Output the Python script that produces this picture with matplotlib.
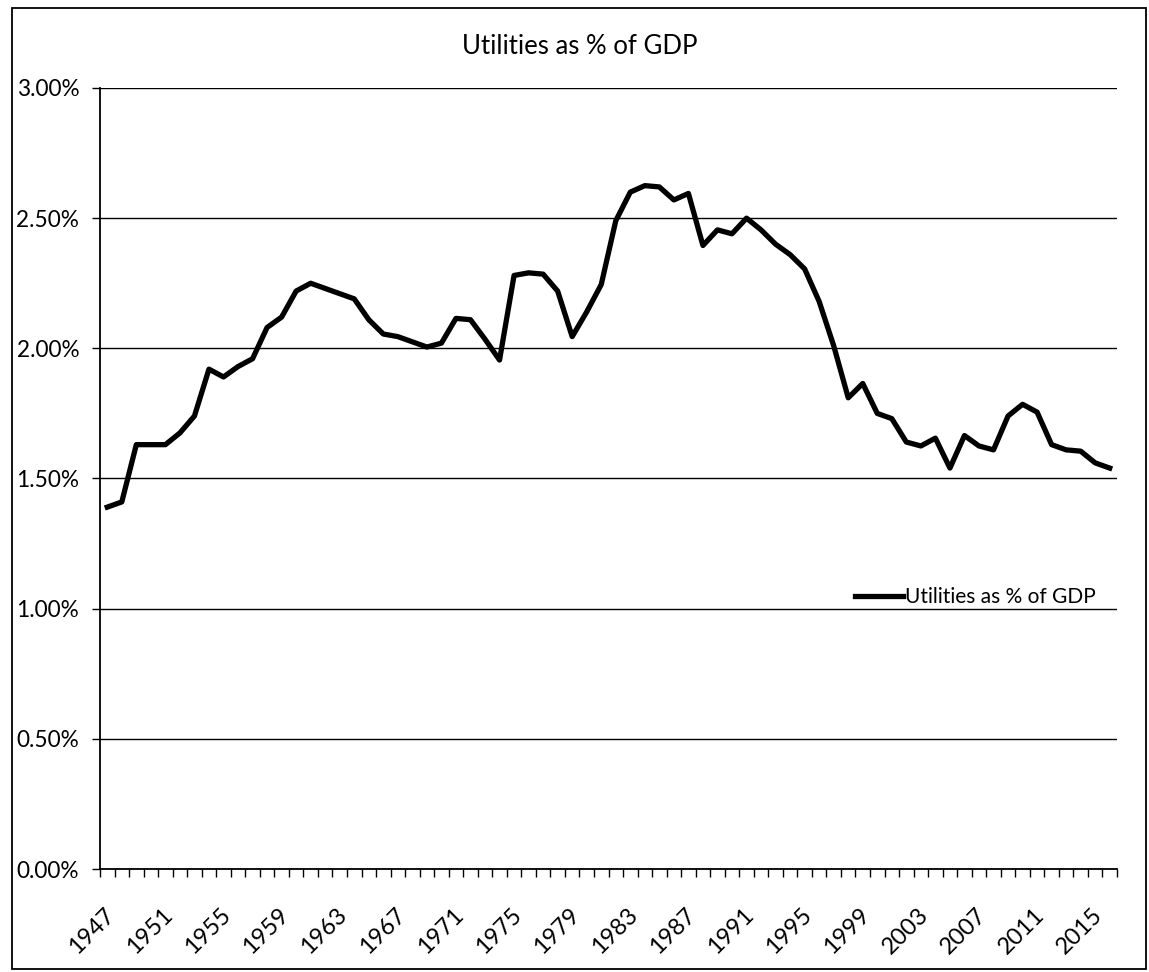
import matplotlib
matplotlib.use("Agg")
import matplotlib.pyplot as plt
from matplotlib.patches import Rectangle
from matplotlib.ticker import FuncFormatter
from matplotlib.transforms import ScaledTranslation

plt.rcParams["font.family"] = ["Lato", "DejaVu Sans"]

# utilities share of GDP (%), one value per year 1947..2016
years = list(range(1947, 2017))
share = [1.39, 1.41, 1.63, 1.63, 1.63, 1.675, 1.74, 1.92, 1.89, 1.93,
         1.96, 2.08, 2.12, 2.22, 2.25, 2.23, 2.21, 2.19, 2.11, 2.055,
         2.045, 2.025, 2.005, 2.02, 2.115, 2.11, 2.035, 1.955, 2.28, 2.29,
         2.285, 2.22, 2.045, 2.14, 2.245, 2.49, 2.60, 2.625, 2.62, 2.57,
         2.595, 2.395, 2.455, 2.44, 2.50, 2.455, 2.40, 2.36, 2.305, 2.18,
         2.01, 1.81, 1.865, 1.75, 1.73, 1.64, 1.625, 1.655, 1.54, 1.665,
         1.625, 1.61, 1.74, 1.785, 1.755, 1.63, 1.61, 1.605, 1.56, 1.54]
label_years = years[::4]
y_ticks = [0.0, 0.5, 1.0, 1.5, 2.0, 2.5, 3.0]

W, H = 1149, 972
fig = plt.figure(figsize=(W / 100, H / 100), dpi=100)
ax = fig.add_axes([100 / W, 1 - 869 / H, 1017 / W, 781 / H])

line, = ax.plot(years, share, color="black", lw=3.8, solid_joinstyle="round",
                label="Utilities as % of GDP", zorder=3)

ax.set_xlim(years[0] - 0.5, years[-1] + 0.5)
ax.set_ylim(0, 3.0)
ax.set_yticks(y_ticks)
ax.yaxis.set_major_formatter(FuncFormatter(lambda v, p: "%.2f%%" % v))
ax.grid(axis="y", color="black", lw=1.0)
ax.set_axisbelow(True)

# tick marks on every category boundary, labels every 4th year
ax.set_xticks([y - 0.5 for y in years] + [years[-1] + 0.5])
ax.set_xticklabels([])
ax.set_xticks(label_years, minor=True)
ax.set_xticklabels([str(y) for y in label_years], minor=True, rotation=45,
                   ha="right", va="center", rotation_mode="anchor", fontsize=17)
ax.tick_params(axis="x", which="major", direction="out", length=6, width=1, color="black")
ax.tick_params(axis="x", which="minor", length=0, pad=20)
ax.tick_params(axis="y", direction="out", length=6, width=1, labelsize=16.3, pad=9)
shift = ScaledTranslation(4 / 100, -15 / 100, fig.dpi_scale_trans)
for lab in ax.get_xticklabels(minor=True):
    lab.set_transform(lab.get_transform() + shift)

for s in ["top", "right"]:
    ax.spines[s].set_visible(False)
for s in ["left", "bottom"]:
    ax.spines[s].set_color("black")
    ax.spines[s].set_linewidth(1.3)

fig.text(580 / W, 1 - 47 / H, "Utilities as % of GDP", ha="center", va="center", fontsize=18.5)

ax.legend(handles=[line], loc="center left", frameon=False, fontsize=15,
          bbox_to_anchor=(855 / W, 1 - 597 / H), bbox_transform=fig.transFigure,
          borderpad=0, borderaxespad=0, handlelength=2.3, handletextpad=0.1)

# outer chart border
fig.patches.append(Rectangle((12 / W, 1 - 969 / H), 1134 / W, 961 / H, transform=fig.transFigure,
                             fill=False, edgecolor="black", lw=1.3))

fig.savefig("out.png", dpi=100)
